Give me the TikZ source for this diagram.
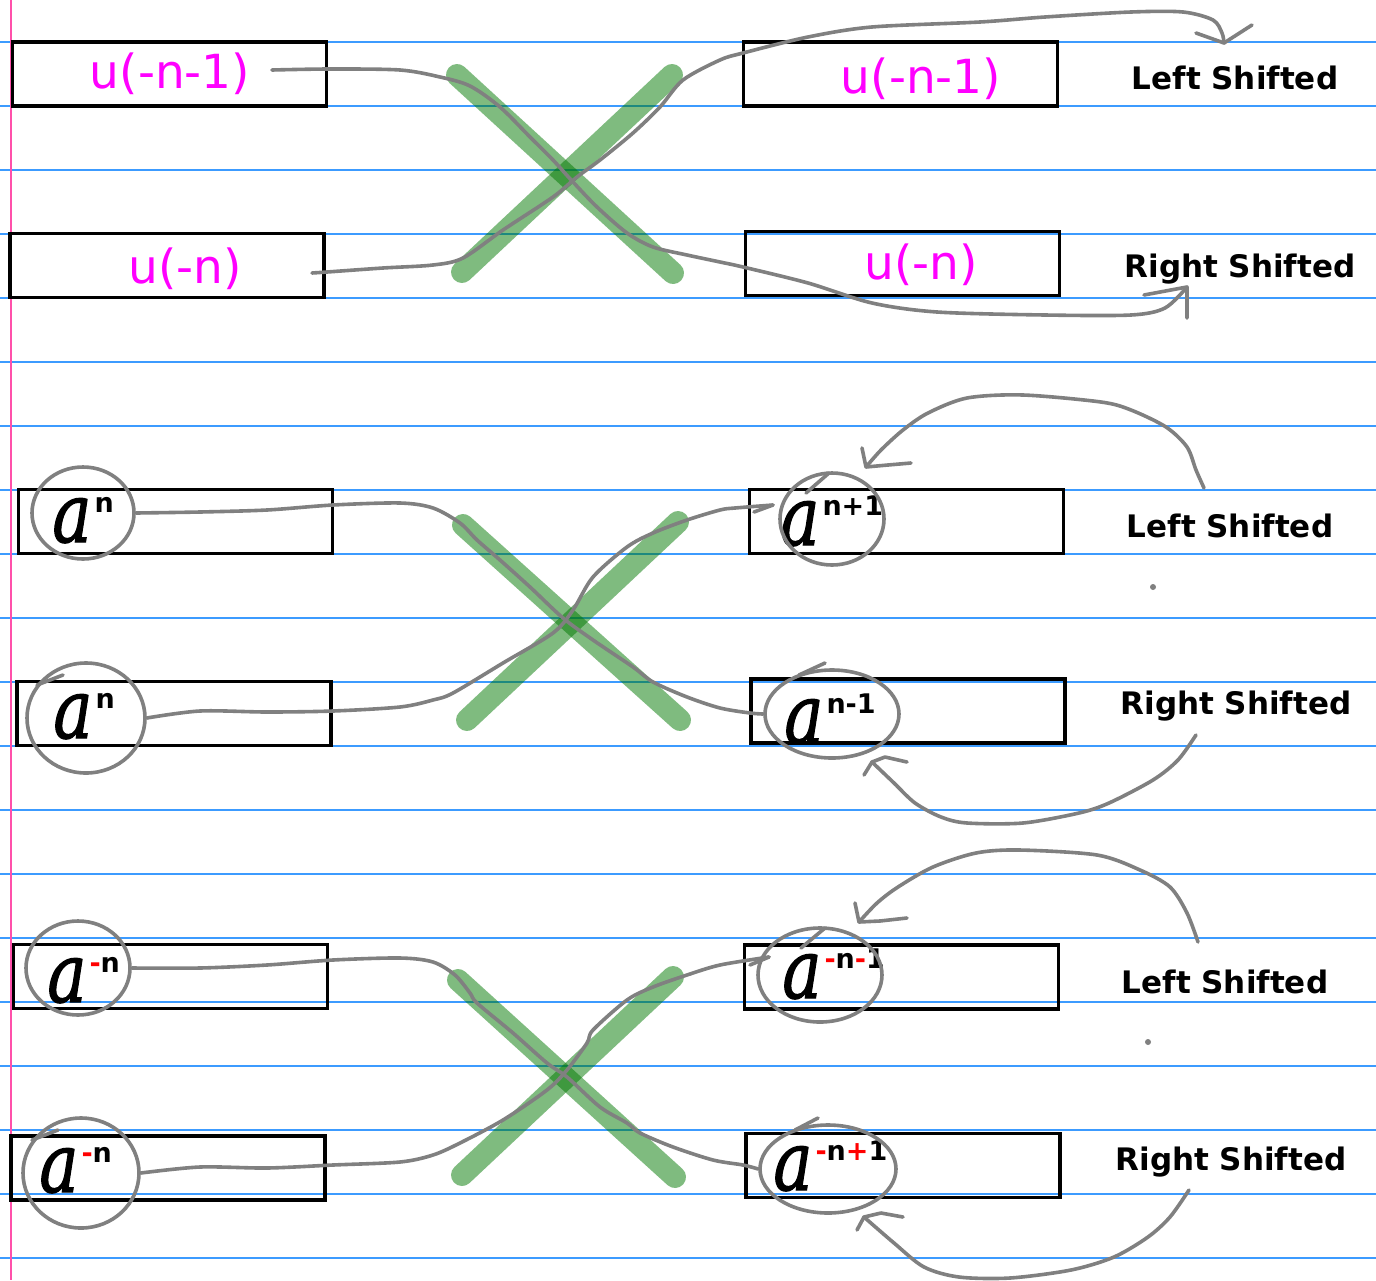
\documentclass[tikz,border=0pt]{standalone}
\usepackage{fontspec}
\setmainfont{DejaVu Sans}
\newfontfamily\handfont{DejaVu Serif}[ItalicFeatures={FakeBold=1.6}]
\usetikzlibrary{shapes.geometric}
\definecolor{ruleblue}{RGB}{60,155,255}
\definecolor{marginpink}{RGB}{255,80,170}
\definecolor{pengray}{RGB}{128,128,128}
\definecolor{xgreen}{RGB}{0,120,0}
\definecolor{magentatext}{RGB}{255,0,255}
\newcommand\handA[1]{\scalebox{0.8}[1]{\handfont\itshape\fontsize{41}{41}\selectfont a}\kern1.5pt\raisebox{15pt}{\fontsize{13.5}{13.5}\selectfont\bfseries #1}}
\newcommand\rd[1]{\textcolor{red}{#1}}
\tikzset{
  box/.style={draw=black, line width=1.8pt, minimum width=157pt, minimum height=32pt, inner sep=0pt},
  utext/.style={text=magentatext, font=\fontsize{23.5}{23.5}\selectfont, inner sep=0pt, anchor=base},
  shiftlabel/.style={font=\fontsize{15.5}{15.5}\selectfont\bfseries, inner sep=0pt, anchor=base},
  ring/.style={ellipse, draw=pengray, line width=1.8pt, inner sep=0pt},
  pen/.style={draw=pengray, line width=1.8pt, line cap=round, line join=round},
  cross/.style={draw=xgreen, draw opacity=0.5, line width=11pt, line cap=round},
  power/.style={inner sep=0pt, anchor=base west},
  dot/.style={circle, fill=pengray, inner sep=0pt, minimum size=3pt},
  rule/.style={draw=ruleblue, line width=0.7pt}
}
\begin{document}
\begin{tikzpicture}[x=0.5pt, y=-0.5pt]
\fill[white] (0,0) rectangle (1376,1280);
\useasboundingbox (0,0) rectangle (1376,1280);
% ruled paper
\foreach \k in {0,...,19} { \draw[rule] (0,42+64*\k) -- (1376,42+64*\k); }
\draw[draw=marginpink, line width=1pt] (11,0) -- (11,1280);

% ---------- boxes ----------
\node[box] (b1a) at (169.5,74) {};
\node[box] (b1b) at (167,265.5) {};
\node[box] (b1c) at (900.5,74) {};
\node[box] (b1d) at (902.5,263.5) {};
\node[box] (b2a) at (175.5,521.5) {};
\node[box] (b2b) at (174,713.5) {};
\node[box] (b2c) at (906.5,521.5) {};
\node[box] (b2d) at (908,711) {};
\node[box] (b3a) at (170.5,976.5) {};
\node[box] (b3b) at (168,1168) {};
\node[box] (b3c) at (901.5,977) {};
\node[box] (b3d) at (903,1165.5) {};

% ---------- green crosses ----------
\draw[cross] (457,75) -- (673,273);
\draw[cross] (462,272) -- (672,75);
\draw[cross] (463,525) -- (680,720);
\draw[cross] (467,720) -- (678,522);
\draw[cross] (458,980) -- (675,1177);
\draw[cross] (462,1175) -- (673,977);

% ---------- texts row 1 ----------
\node[utext] (u1a) at (170,88) {u(-n-1)};
\node[utext] (u1b) at (185,283) {u(-n)};
\node[utext] (u1c) at (921,93) {u(-n-1)};
\node[utext] (u1d) at (921,279) {u(-n)};
\node[shiftlabel] (l1) at (1235,89) {Left Shifted};
\node[shiftlabel] (r1) at (1240,277) {Right Shifted};

% ---------- texts rows 2,3 ----------
\node[power] (p2a) at (52,542) {\handA{n}};
\node[power] (p2b) at (53,738) {\handA{n}};
\node[power] (p2c) at (780,545) {\handA{n+1}};
\node[power] (p2d) at (784,743) {\handA{n-1}};
\node[power] (p3a) at (47,1002) {\handA{\rd{-}n}};
\node[power] (p3b) at (39,1192) {\handA{\rd{-}n}};
\node[power] (p3c) at (782,998) {\handA{\rd{-}n\rd{-}1}};
\node[power] (p3d) at (773,1190) {\handA{\rd{-}n\rd{+}1}};
\node[shiftlabel] (l2) at (1230,537) {Left Shifted};
\node[shiftlabel] (r2) at (1236,714) {Right Shifted};
\node[shiftlabel] (l3) at (1225,993) {Left Shifted};
\node[shiftlabel] (r3) at (1231,1170) {Right Shifted};
\node[dot] (d2) at (1153,587) {};
\node[dot] (d3) at (1148,1042) {};

% ---------- rings ----------
\node[ring, minimum width=51pt, minimum height=46pt] (c2a) at (83,513) {};
\node[ring, minimum width=59pt, minimum height=55pt] (c2b) at (86,718) {};
\node[ring, minimum width=52pt, minimum height=46pt] (c2c) at (832,519) {};
\node[ring, minimum width=67pt, minimum height=44pt] (c2d) at (832,714) {};
\node[ring, minimum width=52pt, minimum height=47pt] (c3a) at (78,968) {};
\node[ring, minimum width=58pt, minimum height=55pt] (c3b) at (81,1173) {};
\node[ring, minimum width=62pt, minimum height=47pt] (c3c) at (820,975) {};
\node[ring, minimum width=68pt, minimum height=44pt] (c3d) at (828,1169) {};
% pen hooks at ring starts
\draw[pen] (37,685) -- (63,675);
\draw[pen] (806,493) -- (829,473);
\draw[pen] (799,675) -- (825,663);
\draw[pen] (32,1140) -- (58,1130);
\draw[pen] (801,948) -- (825,928);
\draw[pen] (795,1130) -- (818,1118);

% ---------- connectors row 1 ----------
\coordinate (sA) at (272,70);
\coordinate (tA) at (1187,287);
\draw[pen] plot[smooth, tension=0.5] coordinates {(sA) (330,69) (400,70) (440,77) (470,86) (500,107) (530,137) (553,160) (573,182) (597,207) (627,233) (653,247) (687,255) (720,262) (743,267) (808,283) (872,303) (937,312) (1045,315) (1131,315) (1165,308) (tA)};
\draw[pen] (1144,295) -- (tA) -- (1187,318);

\coordinate (sB) at (312,273);
\coordinate (tB) at (1224,43);
\draw[pen] plot[smooth, tension=0.5] coordinates {(sB) (327,272) (383,268) (433,265) (463,258) (503,230) (553,197) (577,177) (600,160) (633,133) (660,107) (683,80) (720,60) (743,53) (808,37) (872,27) (980,22) (1045,17) (1131,12) (1183,12) (1213,20) (1222,33) (tB)};
\draw[pen] (1196,33) -- (tB) -- (1252,25);

% ---------- connectors row 2 ----------
\draw[pen] plot[smooth, tension=0.5] coordinates {(c2a.east) (200,512) (267,510) (333,505) (400,503) (433,508) (460,523) (477,540) (500,560) (530,587) (563,618) (593,640) (633,667) (653,682) (687,697) (720,708) (750,713) (c2d.west)};

\coordinate (tD) at (773,505);
\draw[pen] plot[smooth, tension=0.5] coordinates {(c2b.east) (200,711) (267,712) (333,711) (400,707) (433,700) (453,693) (503,663) (553,633) (573,610) (593,577) (627,547) (653,533) (687,520) (720,510) (735,508) (tD)};
\draw[pen] (754,512) -- (tD);

\coordinate (sE) at (1204,488);
\coordinate (tE) at (866,467);
\draw[pen] plot[smooth, tension=0.5] coordinates {(sE) (1196,470) (1187,447) (1166,427) (1131,410) (1101,402) (1023,395) (967,398) (928,413) (903,430) (881,450) (tE)};
\draw[pen] (862,448) -- (tE) -- (888,465) -- (911,463);

\coordinate (sF) at (1196,735);
\coordinate (tF) at (872,762);
\draw[pen] plot[smooth, tension=0.5] coordinates {(sF) (1178,760) (1153,780) (1109,803) (1079,813) (1023,823) (967,823) (941,817) (915,803) (894,783) (tF)};
\draw[pen] (864,775) -- (tF) -- (885,757) -- (907,762);

% ---------- connectors row 3 ----------
\draw[pen] plot[smooth, tension=0.5] coordinates {(c3a.east) (200,968) (267,965) (333,960) (400,958) (433,962) (455,975) (470,993) (477,1003) (513,1033) (547,1063) (567,1077) (600,1107) (627,1123) (640,1133) (673,1147) (713,1160) (743,1165) (c3d.west)};

\coordinate (tH) at (769,957);
\draw[pen] plot[smooth, tension=0.5] coordinates {(c3b.east) (200,1167) (267,1168) (333,1165) (400,1162) (433,1155) (460,1143) (503,1120) (547,1090) (567,1070) (587,1043) (593,1030) (627,1000) (653,987) (687,975) (720,965) (tH)};
\draw[pen] (750,965) -- (tH);

\coordinate (sI) at (1198,942);
\coordinate (tI) at (859,922);
\draw[pen] plot[smooth, tension=0.5] coordinates {(sI) (1187,913) (1170,887) (1140,870) (1097,855) (1019,850) (976,853) (933,867) (898,887) (877,903) (tI)};
\draw[pen] (855,903) -- (tI) -- (880,921) -- (907,918);

\coordinate (sJ) at (1189,1190);
\coordinate (tJ) at (864,1217);
\draw[pen] plot[smooth, tension=0.5] coordinates {(sJ) (1170,1217) (1148,1237) (1114,1257) (1071,1270) (1010,1278) (959,1277) (924,1267) (894,1243) (tJ)};
\draw[pen] (857,1230) -- (tJ) -- (881,1213) -- (903,1217);
\end{tikzpicture}
\end{document}
